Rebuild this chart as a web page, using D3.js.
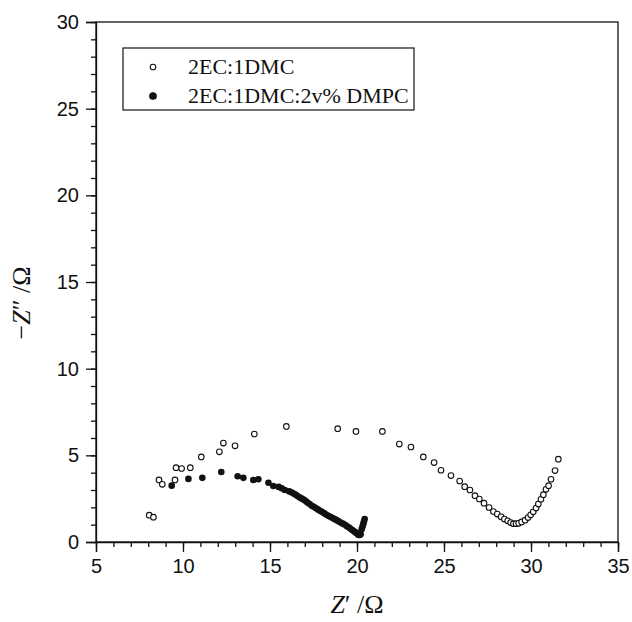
<!DOCTYPE html>
<html lang="en">
<head>
  <meta charset="UTF-8">
  <title>Nyquist plot</title>
  <style>
    body { margin: 0; background: #fff; }
    .tick text { font-family: "Liberation Sans", Arial, sans-serif; font-size: 20px; fill: #111; }
    .axis path, .axis line { stroke: #111; stroke-width: 1.3px; }
  </style>
</head>
<body>
  <script src="https://d3js.org/d3.v7.min.js"></script>
  <script>
    // 2EC:1DMC (open circles) : [Z', -Z'']
    const baseZre = [8.06, 8.30, 8.62, 8.81, 9.54, 9.60, 9.92, 10.42, 11.05, 12.09, 12.32, 12.99, 14.10, 15.94,
      18.89, 19.94, 21.46, 22.43, 23.10, 23.81, 24.43, 24.83, 25.40, 25.90, 26.19, 26.49, 26.78, 27.03,
      27.30, 27.59, 27.84, 28.06, 28.28, 28.47, 28.66, 28.83, 28.99, 29.14, 29.29, 29.46, 29.66, 29.83,
      29.98, 30.13, 30.29, 30.42, 30.57, 30.71, 30.86, 31.01, 31.15, 31.38, 31.57];
    const baseZim = [1.55, 1.43, 3.58, 3.33, 3.58, 4.29, 4.24, 4.29, 4.91, 5.20, 5.71, 5.55, 6.23, 6.67,
      6.54, 6.38, 6.38, 5.65, 5.48, 4.91, 4.58, 4.14, 3.83, 3.52, 3.19, 3.00, 2.67, 2.48,
      2.24, 1.99, 1.76, 1.61, 1.45, 1.32, 1.22, 1.12, 1.06, 1.06, 1.08, 1.16, 1.26, 1.41,
      1.57, 1.74, 1.96, 2.19, 2.46, 2.73, 3.04, 3.25, 3.62, 4.12, 4.78];

    // 2EC:1DMC:2v% DMPC (filled circles)
    const dmpcZre = [9.35, 10.31, 11.11, 12.20, 13.14, 13.47, 14.04, 14.33, 14.91, 15.19, 15.50, 15.67, 15.85,
      16.11, 16.25, 16.38, 16.48, 16.60, 16.72, 16.83, 16.95, 17.05, 17.15, 17.28, 17.40, 17.51, 17.62,
      17.75, 17.87, 17.98, 18.10, 18.22, 18.35, 18.47, 18.60, 18.71, 18.83, 18.94, 19.06, 19.18, 19.31,
      19.42, 19.54, 19.65, 19.75, 19.85, 19.94, 20.02, 20.09, 20.15, 20.21, 20.27, 20.32, 20.36, 20.40, 20.44];
    const dmpcZim = [3.25, 3.64, 3.70, 4.04, 3.79, 3.70, 3.58, 3.62, 3.42, 3.23, 3.18, 3.10, 3.00,
      2.92, 2.86, 2.78, 2.73, 2.64, 2.57, 2.50, 2.44, 2.36, 2.28, 2.19, 2.09, 2.03, 1.96,
      1.88, 1.80, 1.74, 1.67, 1.59, 1.51, 1.45, 1.38, 1.32, 1.26, 1.19, 1.12, 1.06, 0.99,
      0.91, 0.83, 0.75, 0.68, 0.61, 0.54, 0.47, 0.41, 0.40, 0.45, 0.74, 0.90, 1.03, 1.18, 1.32];

    const seriesNames = ["2EC:1DMC", "2EC:1DMC:2v% DMPC"];
    const xTicks = [5, 10, 15, 20, 25, 30, 35];
    const yTicks = [0, 5, 10, 15, 20, 25, 30];

    const width = 632, height = 622;
    const m = { left: 96, right: 14, top: 22, bottom: 80 };
    const pw = width - m.left - m.right, ph = height - m.top - m.bottom;

    const svg = d3.select("body").append("svg").attr("width", width).attr("height", height);
    const g = svg.append("g").attr("transform", `translate(${m.left},${m.top})`);

    const x = d3.scaleLinear().domain([5, 35]).range([0, pw]);
    const y = d3.scaleLinear().domain([0, 30]).range([ph, 0]);

    // minor ticks
    g.append("g").attr("class", "axis").attr("transform", `translate(0,${ph})`)
      .call(d3.axisBottom(x).tickValues(d3.range(5, 36, 1)).tickSize(5).tickFormat(""))
      .select(".domain").remove();
    g.append("g").attr("class", "axis")
      .call(d3.axisLeft(y).tickValues(d3.range(0, 31, 1)).tickSize(5).tickFormat(""))
      .select(".domain").remove();

    // major ticks
    g.append("g").attr("class", "axis").attr("transform", `translate(0,${ph})`)
      .call(d3.axisBottom(x).tickValues(xTicks).tickSize(10).tickPadding(7).tickFormat(d3.format("d")));
    g.append("g").attr("class", "axis")
      .call(d3.axisLeft(y).tickValues(yTicks).tickSize(10).tickPadding(7).tickFormat(d3.format("d")));

    // frame
    g.append("rect").attr("width", pw).attr("height", ph)
      .attr("fill", "none").attr("stroke", "#111").attr("stroke-width", 1.3);

    const base = baseZre.map((v, i) => [v, baseZim[i]]);
    const dmpc = dmpcZre.map((v, i) => [v, dmpcZim[i]]);

    g.append("g").selectAll("circle").data(base).join("circle")
      .attr("cx", d => x(d[0])).attr("cy", d => y(d[1])).attr("r", 2.8)
      .attr("fill", "#fff").attr("stroke", "#111").attr("stroke-width", 1.1);

    g.append("g").selectAll("circle").data(dmpc).join("circle")
      .attr("cx", d => x(d[0])).attr("cy", d => y(d[1])).attr("r", 3.3)
      .attr("fill", "#111");

    // legend
    const lg = svg.append("g").attr("transform", "translate(123,48)");
    lg.append("rect").attr("width", 291).attr("height", 62)
      .attr("fill", "#fff").attr("stroke", "#111").attr("stroke-width", 1.2);
    seriesNames.forEach((name, i) => {
      const cy = 19 + i * 29;
      lg.append("circle").attr("cx", 30).attr("cy", cy).attr("r", i === 0 ? 2.8 : 3.3)
        .attr("fill", i === 0 ? "#fff" : "#111").attr("stroke", "#111").attr("stroke-width", 1.1);
      lg.append("text").attr("x", 65).attr("y", cy + 7)
        .attr("font-family", "'Liberation Serif', 'Times New Roman', serif").attr("font-size", 22)
        .attr("fill", "#111").text(name);
    });

    // axis titles
    svg.append("text").attr("x", 357).attr("y", 613).attr("text-anchor", "middle")
      .attr("font-family", "'Liberation Serif', 'Times New Roman', serif").attr("font-size", 26)
      .attr("fill", "#111")
      .html('<tspan font-style="italic">Z</tspan>′ /Ω');

    svg.append("text").attr("transform", "translate(30,303) rotate(-90)").attr("text-anchor", "middle")
      .attr("font-family", "'Liberation Serif', 'Times New Roman', serif").attr("font-size", 26)
      .attr("fill", "#111")
      .html('−<tspan font-style="italic">Z</tspan>″ /Ω');
  </script>
</body>
</html>
